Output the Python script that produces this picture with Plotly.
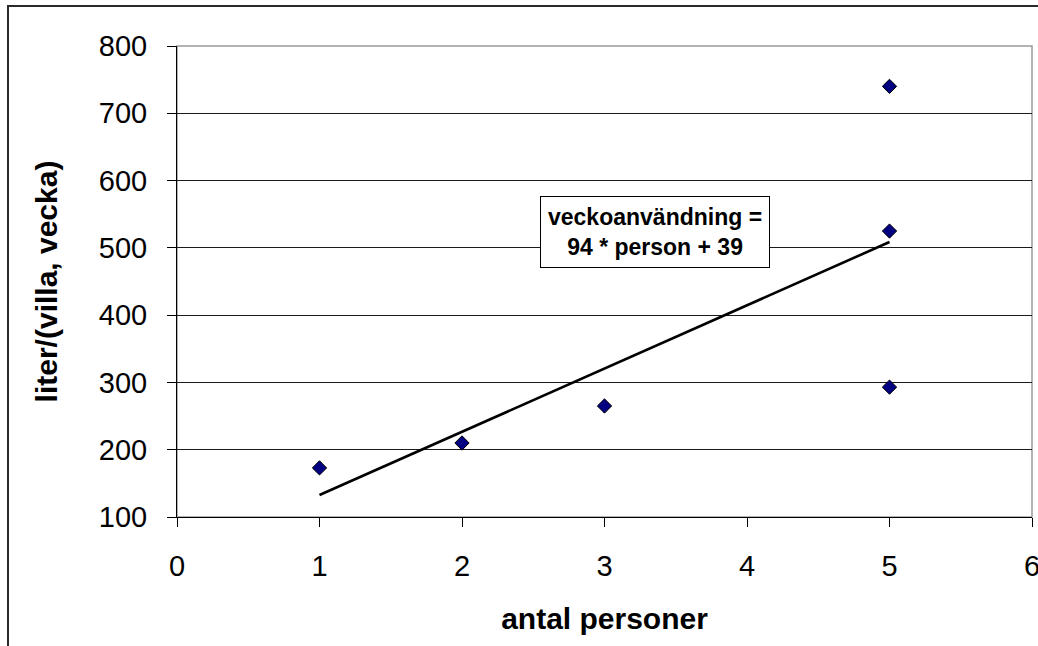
import numpy as np
import plotly.graph_objects as go

# Data
persons = [1, 2, 3, 5, 5, 5]
liters_per_week = [173, 210, 265, 740, 525, 293]

x_title = "antal personer"
y_title = "liter/(villa, vecka)"
eq_text = "veckoanvändning =<br>94 * person + 39"

x_range = [0, 6]
y_range = [100, 800]

# Linear trend line fitted from the data
slope, intercept = np.polyfit(persons, liters_per_week, 1)
trend_x = [min(persons), max(persons)]
trend_y = [slope * v + intercept for v in trend_x]

FONT = "Liberation Sans, Arial, sans-serif"

fig = go.Figure()
fig.add_trace(go.Scatter(
    x=persons, y=liters_per_week, mode="markers",
    marker=dict(symbol="diamond", size=11, color="#000080",
                line=dict(color="#000000", width=1)),
    showlegend=False, hoverinfo="x+y"))
fig.add_trace(go.Scatter(
    x=trend_x, y=trend_y, mode="lines",
    line=dict(color="#000000", width=2.6),
    showlegend=False, hoverinfo="skip"))

fig.update_layout(
    width=1038, height=646,
    margin=dict(l=177, r=6, t=46, b=129, autoexpand=False),
    paper_bgcolor="white", plot_bgcolor="white",
    font=dict(family=FONT, color="black"),
    xaxis=dict(range=x_range, dtick=1, tick0=0, showgrid=False, zeroline=False,
               showline=True, linecolor="black", linewidth=1,
               ticks="outside", ticklen=9, tickcolor="black", tickwidth=1,
               tickfont=dict(size=29, family=FONT, color="black"),
               ticklabelstandoff=14, ticklabeloverflow="allow", automargin=False,
               title=dict(text="<b>" + x_title + "</b>", standoff=27,
                          font=dict(size=30, family=FONT, color="black"))),
    yaxis=dict(range=y_range, dtick=100, tick0=100, showgrid=True,
               gridcolor="#1a1a1a", gridwidth=1, zeroline=False,
               showline=True, linecolor="black", linewidth=1,
               ticks="outside", ticklen=9, tickcolor="black", tickwidth=1,
               tickfont=dict(size=29, family=FONT, color="black"),
               ticklabelstandoff=14, automargin=False,
               title=dict(text="<b>" + y_title + "</b>", standoff=32,
                          font=dict(size=30, family=FONT, color="black"))),
    shapes=[
        # plot area border (grey)
        dict(type="rect", xref="paper", yref="paper", x0=0, y0=0, x1=1, y1=1,
             line=dict(color="#9a9a9a", width=1.5), layer="below"),
        # outer chart border
        dict(type="rect", xref="paper", yref="paper",
             x0=(8 - 177) / 855, x1=(1050 - 177) / 855,
             y0=(517 - 660) / 471, y1=(517 - 6) / 471,
             line=dict(color="#2a2a2a", width=2), layer="below"),
    ],
    annotations=[
        dict(x=3.354, y=523, xref="x", yref="y", text="<b>" + eq_text + "</b>",
             showarrow=False, align="center",
             font=dict(size=23, family=FONT, color="black"),
             bgcolor="white", bordercolor="black", borderwidth=1, borderpad=7),
    ],
)

fig.write_html("out.html",
               config={"displayModeBar": False},
               post_script="document.body.style.margin='0';document.body.style.overflow='hidden';")
